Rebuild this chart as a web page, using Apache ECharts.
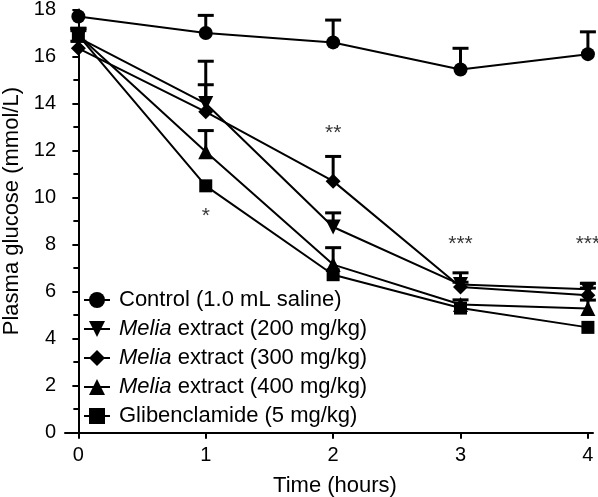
<!DOCTYPE html>
<html><head><meta charset="utf-8">
<script src="https://cdn.jsdelivr.net/npm/echarts@6/dist/echarts.min.js"></script>
<style>html,body{margin:0;padding:0;background:#fff}#c{width:598px;height:497px}</style>
</head><body><div id="c"></div>
<script>
const times = [0, 1, 2, 3, 4];
const xTicks = [0, 1, 2, 3, 4];
const seriesNames = ['Control (1.0 mL saline)', 'Melia extract (200 mg/kg)', 'Melia extract (300 mg/kg)', 'Melia extract (400 mg/kg)', 'Glibenclamide (5 mg/kg)'];
const control = [17.7, 17.0, 16.6, 15.45, 16.1];
const controlErr = [0.0, 0.75, 0.95, 0.9, 0.95];
const melia200 = [16.8, 14.0, 8.75, 6.3, 6.1];
const melia200Err = [0.4, 1.8, 0.6, 0.5, 0.25];
const melia300 = [16.35, 13.65, 10.7, 6.2, 5.85];
const melia300Err = [0.3, 1.15, 1.05, 0.2, 0.3];
const melia400 = [16.9, 11.95, 7.15, 5.45, 5.28];
const melia400Err = [0.3, 0.9, 0.72, 0.2, 0.36];
const gliben = [16.9, 10.5, 6.72, 5.3, 4.48];
const glibenErr = [0.2, 0, 0, 0, 0];
const sigX = [1, 2, 3, 4];
const sigY = [9.2, 12.75, 8.0, 8.0];
const sigText = ['*', '**', '***', '***'];

const values = [control, melia200, melia300, melia400, gliben];
const errs = [controlErr, melia200Err, melia300Err, melia400Err, glibenErr];
const symbols = ['circle', 'path://M0,0 L10,0 L5,10 Z', 'diamond', 'triangle', 'rect'];
const sizes = [14, 15, 15, 15, 13];

const FONT = 'Liberation Sans, Arial, sans-serif';
const chart = echarts.init(document.getElementById('c'), null, {renderer: 'canvas'});

const series = [];
values.forEach((v, i) => {
  series.push({
    type: 'custom', name: seriesNames[i] + '_err', silent: true, z: 1,
    data: times.map((t, k) => [t, v[k], v[k] + errs[i][k]]),
    renderItem: function (params, api) {
      const p0 = api.coord([api.value(0), api.value(1)]);
      const p1 = api.coord([api.value(0), api.value(2)]);
      if (api.value(2) - api.value(1) < 0.01) return null;
      const st = {stroke: '#000', lineWidth: 3};
      return {type: 'group', children: [
        {type: 'line', shape: {x1: p0[0], y1: p0[1], x2: p1[0], y2: p1[1]}, style: st},
        {type: 'line', shape: {x1: p1[0] - 8, y1: p1[1], x2: p1[0] + 8, y2: p1[1]}, style: st}
      ]};
    }
  });
});
values.forEach((v, i) => {
  series.push({
    type: 'line', name: seriesNames[i], z: 3,
    data: times.map((t, k) => [t, v[k]]),
    symbol: symbols[i], symbolSize: sizes[i], showSymbol: true,
    lineStyle: {color: '#000', width: 2},
    itemStyle: {color: '#000', borderWidth: 0},
    emphasis: {disabled: true}
  });
});
series.push({
  type: 'scatter', name: 'sig', symbolSize: 0, z: 4, silent: true,
  data: sigX.map((x, k) => ({value: [x, sigY[k]], label: {formatter: sigText[k]}})),
  label: {show: true, position: 'inside', color: '#000', fontSize: 21, fontFamily: FONT}
});

chart.setOption({
  animation: false,
  backgroundColor: '#fff',
  grid: {left: 65, right: 5, top: 9.5, bottom: 64.3, containLabel: false, outerBoundsMode: 'none'},
  xAxis: {
    type: 'value', min: -0.105, max: 4.04,
    name: 'Time (hours)', nameLocation: 'middle', nameGap: 42,
    nameTextStyle: {fontSize: 22, color: '#000', fontFamily: FONT, padding: [0, 0, 0, 12]},
    axisLine: {onZero: false, lineStyle: {color: '#000', width: 2}},
    axisTick: {customValues: xTicks, length: 6, lineStyle: {color: '#000', width: 2}},
    axisLabel: {customValues: xTicks, fontSize: 20, color: '#000', fontFamily: FONT, margin: 13},
    splitLine: {show: false}
  },
  yAxis: {
    type: 'value', min: 0, max: 18, interval: 2,
    name: 'Plasma glucose (mmol/L)', nameLocation: 'middle', nameGap: 36, nameRotate: 90,
    nameTextStyle: {fontSize: 22, color: '#000', fontFamily: FONT, padding: [0, 0, 0, 20]},
    axisLine: {show: true, lineStyle: {color: '#000', width: 2}},
    axisTick: {show: true, length: 6, lineStyle: {color: '#000', width: 2}},
    minorTick: {show: true, splitNumber: 2, length: 5, lineStyle: {color: '#000', width: 2}},
    axisLabel: {fontSize: 20, color: '#000', fontFamily: FONT, margin: 9},
    splitLine: {show: false}
  },
  legend: {
    orient: 'vertical', left: 78, top: 284, itemGap: 7, itemWidth: 26, itemHeight: 20,
    data: seriesNames,
    formatter: function (n) { return n.indexOf('Melia') === 0 ? '{i|Melia}' + n.slice(5) : n; },
    textStyle: {fontSize: 22, color: '#000', fontFamily: FONT, padding: [0, 0, 0, 4],
      rich: {i: {fontStyle: 'italic', fontSize: 22, color: '#000', fontFamily: FONT}}},
    itemStyle: {color: '#000'}, lineStyle: {color: '#000', width: 2}
  },
  series: series
});
</script></body></html>
